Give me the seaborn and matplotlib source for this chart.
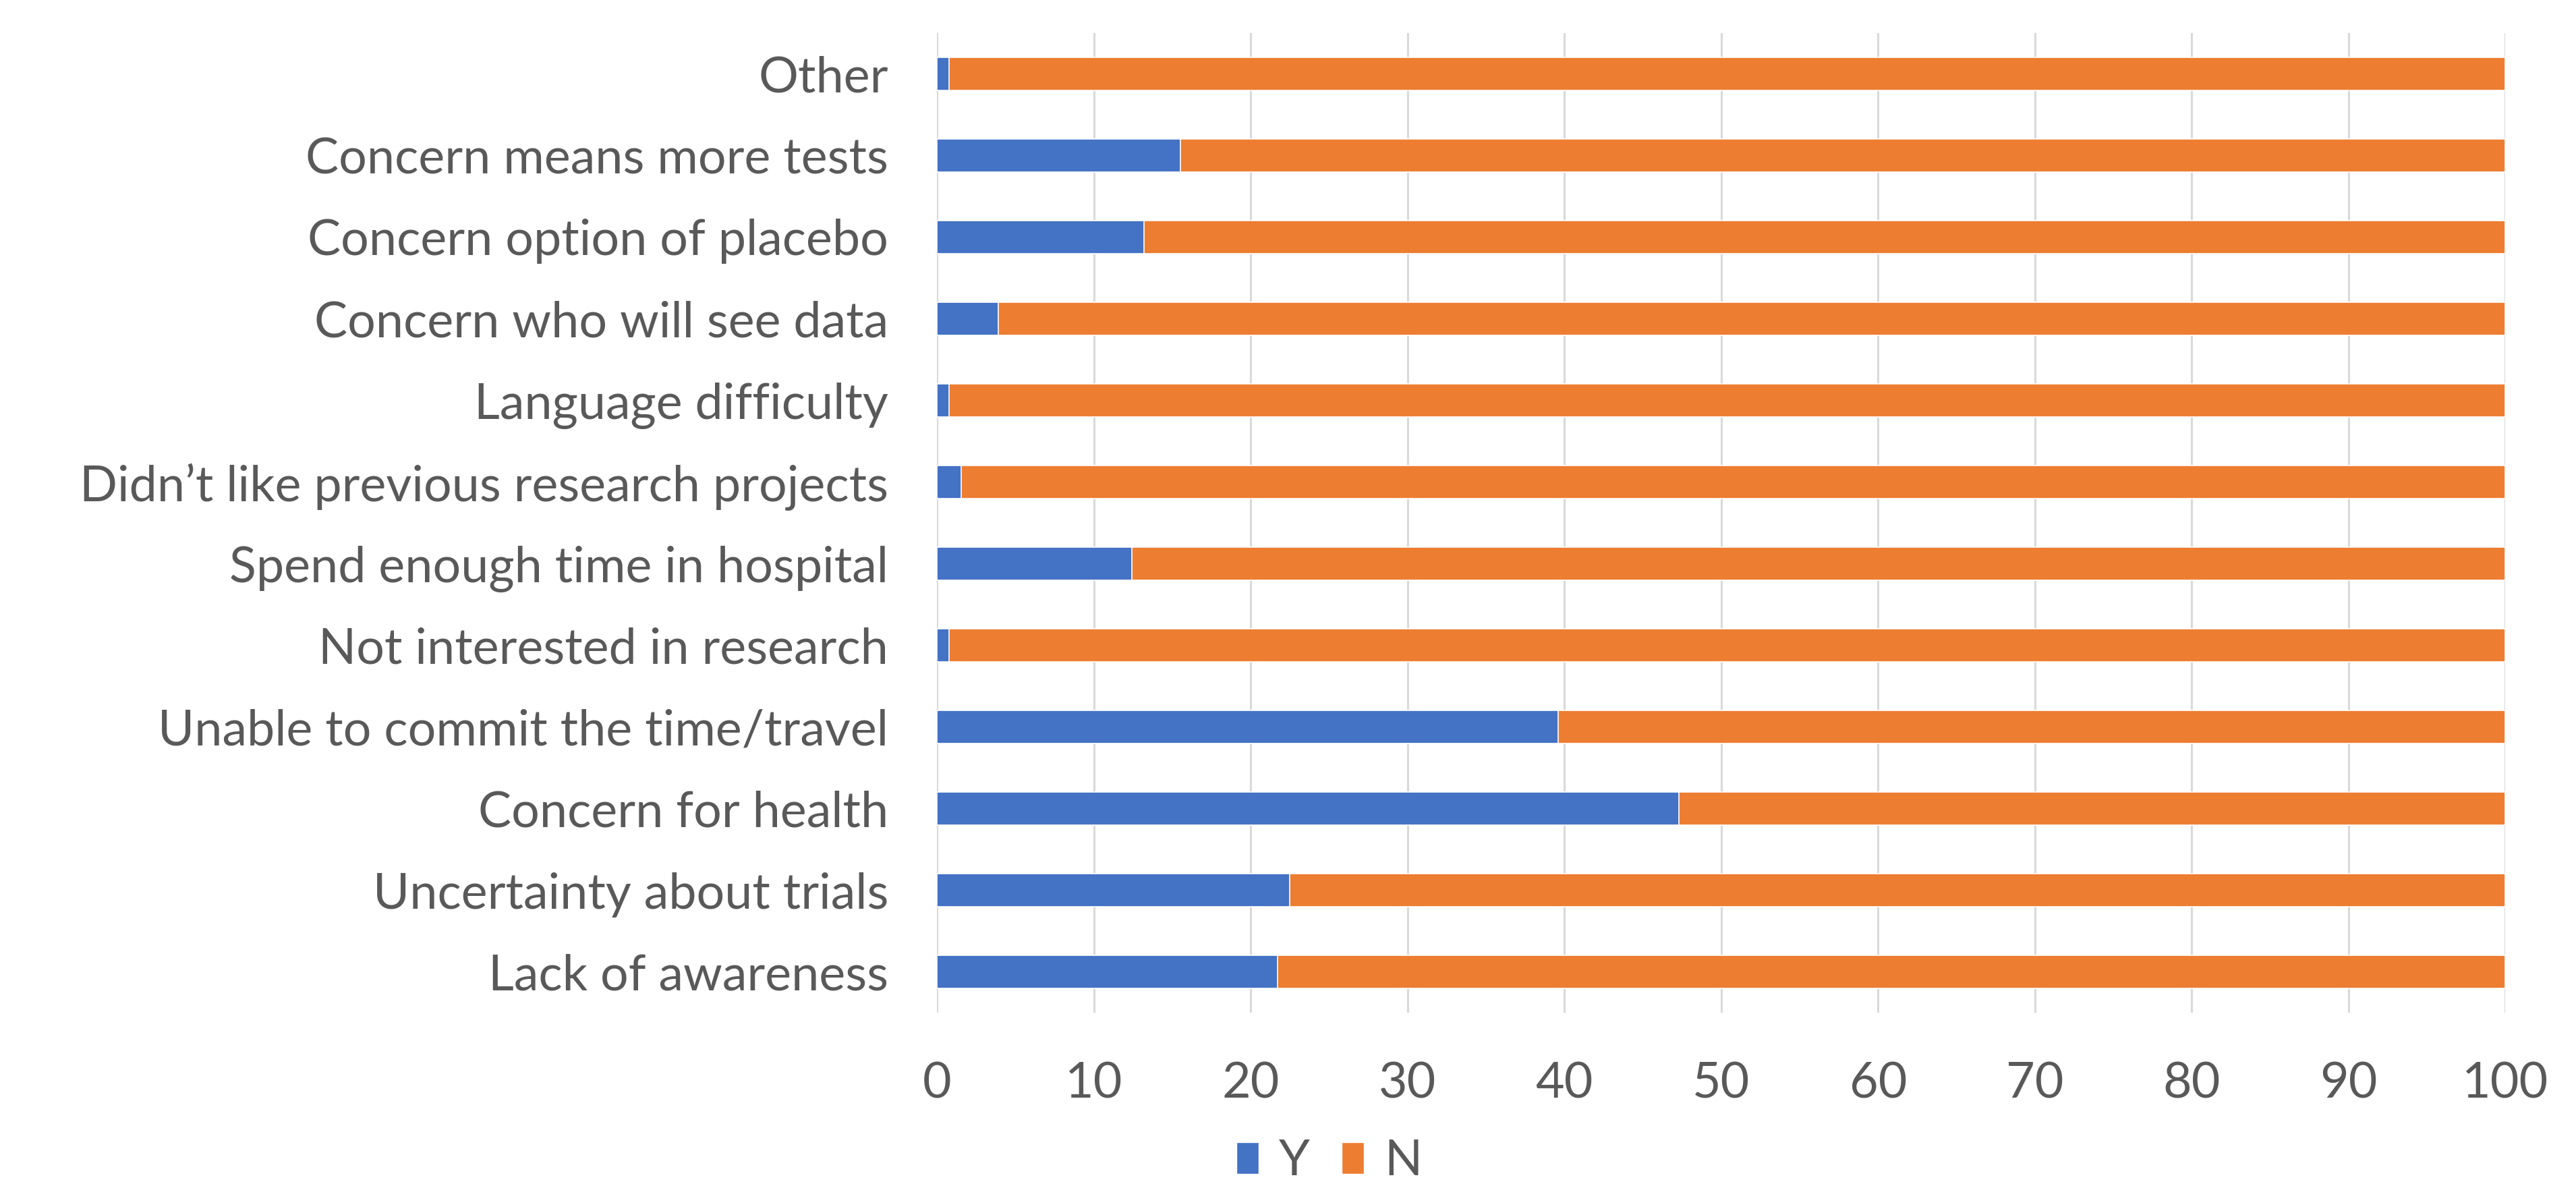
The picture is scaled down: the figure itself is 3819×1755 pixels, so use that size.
import pandas as pd
import seaborn as sns
import matplotlib.pyplot as plt
from matplotlib.patches import Patch

# reasons for not taking part, top to bottom as in the chart
reasons = [
    "Other",
    "Concern means more tests",
    "Concern option of placebo",
    "Concern who will see data",
    "Language difficulty",
    "Didn\u2019t like previous research projects",
    "Spend enough time in hospital",
    "Not interested in research",
    "Unable to commit the time/travel",
    "Concern for health",
    "Uncertainty about trials",
    "Lack of awareness",
]
yes_pct = [0.75, 15.5, 13.2, 3.9, 0.75, 1.55, 12.4, 0.75, 39.6, 47.3, 22.5, 21.7]
no_pct = [100 - v for v in yes_pct]

blue = "#4472C4"
orange = "#ED7D31"
text_grey = "#595959"

df = pd.DataFrame({"reason": reasons, "Y": yes_pct, "N": no_pct})
df["total"] = df["Y"] + df["N"]

sns.set_style("white")
plt.rcParams["font.family"] = ["Lato", "DejaVu Sans"]

fig = plt.figure(figsize=(38.19, 17.55), dpi=100)
ax = fig.add_axes([0.3638, 0.1447, 0.6088, 0.8274])

# stacked: full Y+N bar in orange, Y drawn over it in blue
sns.barplot(data=df, x="total", y="reason", color=orange, width=0.4,
            saturation=1, edgecolor="white", linewidth=1.2, ax=ax)
sns.barplot(data=df, x="Y", y="reason", color=blue, width=0.4,
            saturation=1, edgecolor="white", linewidth=1.2, ax=ax)

ax.set_xlim(0, 100)
ax.set_ylim(len(reasons) - 0.5, -0.5)
ax.set_xticks(range(0, 101, 10))
ax.set_xlabel("")
ax.set_ylabel("")
ax.grid(axis="x", color="#D9D9D9", linewidth=2.2)
ax.set_axisbelow(True)
for s in ax.spines.values():
    s.set_visible(False)
ax.tick_params(axis="both", length=0, labelsize=53, labelcolor=text_grey)
ax.tick_params(axis="y", pad=52)
ax.tick_params(axis="x", pad=52)

handles = [Patch(facecolor=blue), Patch(facecolor=orange)]
fig.legend(handles, ["Y", "N"], loc="lower center", bbox_to_anchor=(0.516, -0.038),
           ncol=2, frameon=False, fontsize=53, labelcolor=text_grey,
           handlelength=0.45, handleheight=0.6, handletextpad=0.4,
           columnspacing=0.65)

fig.savefig("out.png", dpi=100, facecolor="white")
